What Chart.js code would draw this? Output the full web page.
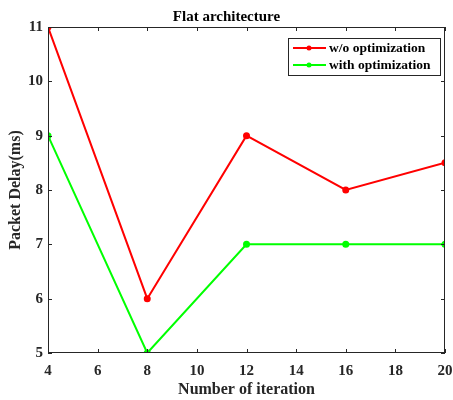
<!DOCTYPE html>
<html>
<head>
<meta charset="utf-8">
<style>
  body { margin: 0; background: #fff; }
  #wrap { width: 453px; height: 400px; }
</style>
</head>
<body>
<div id="wrap"><canvas id="delayChart" width="453" height="400"></canvas></div>
<script src="https://cdn.jsdelivr.net/npm/chart.js"></script>
<script>
// iterations on the x axis
const iterations = [4, 8, 12, 16, 20];
// packet delay (ms)
const withoutOpt = [11, 6, 9, 8, 8.5];
const withOpt = [9, 5, 7, 7, 7];
const xTicks = [4, 6, 8, 10, 12, 14, 16, 18, 20];
const yTicks = [5, 6, 7, 8, 9, 10, 11];

const axisColor = '#262626';
const serif = "'Liberation Serif', 'DejaVu Serif', serif";

// box round the plot plus inward ticks, matlab style
const boxPlugin = {
    id: 'box',
    afterDraw(chart) {
        const ctx = chart.ctx;
        const a = chart.chartArea;
        const xs = chart.scales.x, ys = chart.scales.y;
        ctx.save();
        ctx.strokeStyle = axisColor;
        ctx.lineWidth = 1;
        ctx.strokeRect(a.left + 0.5, a.top + 0.5, a.right - a.left - 1, a.bottom - a.top - 1);
        ctx.beginPath();
        xTicks.forEach(function(v) {
            const px = Math.round(xs.getPixelForValue(v)) + 0.5;
            ctx.moveTo(px, a.bottom); ctx.lineTo(px, a.bottom - 4);
            ctx.moveTo(px, a.top); ctx.lineTo(px, a.top + 4);
        });
        yTicks.forEach(function(v) {
            const py = Math.round(ys.getPixelForValue(v)) + 0.5;
            ctx.moveTo(a.left, py); ctx.lineTo(a.left + 4, py);
            ctx.moveTo(a.right, py); ctx.lineTo(a.right - 4, py);
        });
        ctx.stroke();
        ctx.restore();
    }
};

// legend box inside the plot, top right
const legendBox = {
    id: 'legendBox',
    afterDraw(chart) {
        const ctx = chart.ctx;
        const x0 = 288, y0 = 38, w = 152, h = 37;
        ctx.save();
        ctx.fillStyle = '#fff';
        ctx.fillRect(x0, y0, w, h);
        ctx.strokeStyle = axisColor;
        ctx.lineWidth = 1;
        ctx.strokeRect(x0 + 0.5, y0 + 0.5, w, h);
        ctx.font = 'bold 13.5px ' + serif;
        ctx.textBaseline = 'middle';
        chart.data.datasets.forEach(function(ds, i) {
            const y = y0 + 10 + i * 17;
            ctx.strokeStyle = ds.borderColor;
            ctx.lineWidth = 2;
            ctx.beginPath();
            ctx.moveTo(x0 + 5, y); ctx.lineTo(x0 + 38, y);
            ctx.stroke();
            ctx.fillStyle = ds.borderColor;
            ctx.beginPath();
            ctx.arc(x0 + 21, y, 2.5, 0, Math.PI * 2);
            ctx.fill();
            ctx.fillStyle = '#000';
            ctx.fillText(ds.label, x0 + 41, y + 1);
        });
        ctx.restore();
    }
};

new Chart(document.getElementById('delayChart'), {
    type: 'line',
    data: {
        datasets: [{
            label: 'w/o optimization',
            data: iterations.map(function(x, i) { return { x: x, y: withoutOpt[i] }; }),
            borderColor: '#ff0000',
            backgroundColor: '#ff0000',
            borderWidth: 2,
            pointRadius: 2.5,
            tension: 0
        }, {
            label: 'with optimization',
            data: iterations.map(function(x, i) { return { x: x, y: withOpt[i] }; }),
            borderColor: '#00ff00',
            backgroundColor: '#00ff00',
            borderWidth: 2,
            pointRadius: 2.5,
            tension: 0
        }]
    },
    options: {
        responsive: false,
        animation: false,
        layout: { padding: { left: 0, right: 0, top: 0, bottom: 0 } },
        plugins: {
            legend: { display: false },
            tooltip: { enabled: false },
            title: {
                display: true,
                text: 'Flat architecture',
                color: '#000',
                font: { family: serif, size: 15, weight: 'bold' },
                padding: { top: 8, bottom: 1 }
            }
        },
        scales: {
            x: {
                type: 'linear',
                min: 4,
                max: 20,
                afterBuildTicks: function(scale) {
                    scale.ticks = xTicks.map(function(v) { return { value: v }; });
                },
                afterFit: function(scale) {
                    scale.height = 47;
                    scale.paddingRight = 8;
                },
                grid: { display: false, drawTicks: false, tickLength: 0 },
                border: { display: false },
                ticks: {
                    color: '#262626',
                    padding: 9,
                    font: { family: serif, size: 15, weight: 'bold' }
                },
                title: {
                    display: true,
                    text: 'Number of iteration',
                    color: '#262626',
                    padding: { top: 0, bottom: 1 },
                    font: { family: serif, size: 16, weight: 'bold' }
                }
            },
            y: {
                min: 5,
                max: 11,
                afterBuildTicks: function(scale) {
                    scale.ticks = yTicks.map(function(v) { return { value: v }; });
                },
                afterFit: function(scale) { scale.width = 48; },
                grid: { display: false, drawTicks: false, tickLength: 0 },
                border: { display: false },
                ticks: {
                    color: '#262626',
                    padding: 5,
                    font: { family: serif, size: 15, weight: 'bold' }
                },
                title: {
                    display: true,
                    text: 'Packet Delay(ms)',
                    color: '#262626',
                    padding: { top: 6, bottom: 2 },
                    font: { family: serif, size: 16, weight: 'bold' }
                }
            }
        }
    },
    plugins: [boxPlugin, legendBox]
});
</script>
</body>
</html>
